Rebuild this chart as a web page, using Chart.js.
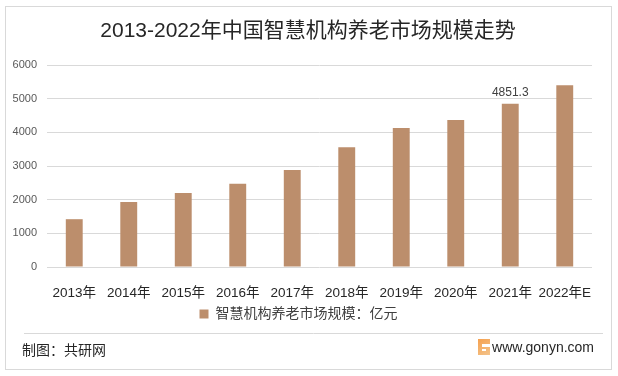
<!DOCTYPE html>
<html>
<head>
<meta charset="utf-8">
<script src="https://cdn.jsdelivr.net/npm/chart.js@4.4.0/dist/chart.umd.min.js"></script>
<style>
  html, body { margin: 0; padding: 0; background: #fff; }
  #wrap { position: relative; width: 618px; height: 376px; }
  #frame { position: absolute; left: 5px; top: 6px; width: 605px; height: 362px; border: 1px solid #d9d9d9; pointer-events: none; }
</style>
</head>
<body>
<div id="wrap">
  <canvas id="marketChart" width="618" height="376"></canvas>
  <div id="frame"></div>
</div>
<script>
// Chart data
const years = ['2013年', '2014年', '2015年', '2016年', '2017年', '2018年', '2019年', '2020年', '2021年', '2022年E'];
const marketSize = [1420, 1930, 2200, 2470, 2880, 3560, 4130, 4370, 4851.3, 5400];
const labelledIndex = 8; // only 2021 carries a value label
const yTicks = [0, 1000, 2000, 3000, 4000, 5000, 6000];

const titleText = '2013-2022年中国智慧机构养老市场规模走势';
const seriesName = '智慧机构养老市场规模：亿元';
const sourceText = '制图：共研网';
const siteText = 'www.gonyn.com';

const FONT = "'Liberation Sans', 'Noto Sans CJK SC', sans-serif";

// Title, value label and footer drawn on the canvas
const decorations = {
  id: 'decorations',
  afterDraw(chart) {
    const ctx = chart.ctx;
    ctx.save();

    // title
    ctx.fillStyle = '#262626';
    ctx.font = '21px ' + FONT;
    ctx.textAlign = 'center';
    ctx.textBaseline = 'middle';
    ctx.fillText(titleText, 308, 31);

    // value label over the 2021 bar
    const bar = chart.getDatasetMeta(0).data[labelledIndex];
    ctx.fillStyle = '#404040';
    ctx.font = '12px ' + FONT;
    ctx.textBaseline = 'bottom';
    ctx.fillText(String(marketSize[labelledIndex]), bar.x, bar.y - 5);

    // footer separator
    ctx.strokeStyle = '#d9d9d9';
    ctx.lineWidth = 1;
    ctx.beginPath();
    ctx.moveTo(24, 333.5);
    ctx.lineTo(603, 333.5);
    ctx.stroke();

    // source text
    ctx.fillStyle = '#262626';
    ctx.font = '14px ' + FONT;
    ctx.textAlign = 'left';
    ctx.textBaseline = 'middle';
    ctx.fillText(sourceText, 22, 351);

    // site logo
    const g = ctx.createLinearGradient(478, 338, 490, 356);
    g.addColorStop(0, '#f6a04d');
    g.addColorStop(1, '#f3c58e');
    ctx.fillStyle = g;
    ctx.fillRect(478, 339, 12, 16);
    ctx.fillStyle = '#fff';
    ctx.fillRect(482, 344, 8, 3);
    ctx.fillRect(482, 349, 4, 2);

    ctx.fillStyle = '#262626';
    ctx.font = '14px ' + FONT;
    ctx.textAlign = 'right';
    ctx.fillText(siteText, 594, 348);

    ctx.restore();
  }
};

const ctx = document.getElementById('marketChart').getContext('2d');
new Chart(ctx, {
  type: 'bar',
  data: {
    labels: years,
    datasets: [{
      label: seriesName,
      data: marketSize,
      backgroundColor: '#bc8e6c',
      borderWidth: 0,
      barPercentage: 0.62,
      categoryPercentage: 0.5
    }]
  },
  options: {
    responsive: false,
    animation: false,
    devicePixelRatio: 1,
    layout: {
      padding: { left: 5, right: 26, top: 65, bottom: 45 }
    },
    plugins: {
      title: { display: false },
      tooltip: { enabled: false },
      legend: {
        position: 'bottom',
        labels: {
          boxWidth: 9,
          boxHeight: 9,
          padding: 5,
          color: '#404040',
          font: { family: FONT, size: 14 }
        }
      }
    },
    scales: {
      x: {
        grid: { display: false, drawTicks: false },
        border: { display: false },
        ticks: {
          color: '#262626',
          padding: 18,
          maxRotation: 0,
          autoSkip: false,
          font: { family: FONT, size: 13.5 }
        },
        afterFit(scale) { scale.height = 35; }
      },
      y: {
        min: 0,
        max: 6000,
        grid: { color: '#d9d9d9', drawTicks: false },
        border: { display: false },
        afterBuildTicks(scale) { scale.ticks = yTicks.map(v => ({ value: v })); },
        ticks: {
          color: '#595959',
          padding: 10,
          font: { family: FONT, size: 11 },
          callback: (value) => String(value)
        },
        afterFit(scale) { scale.width = 42; }
      }
    }
  },
  plugins: [decorations]
});
</script>
</body>
</html>
